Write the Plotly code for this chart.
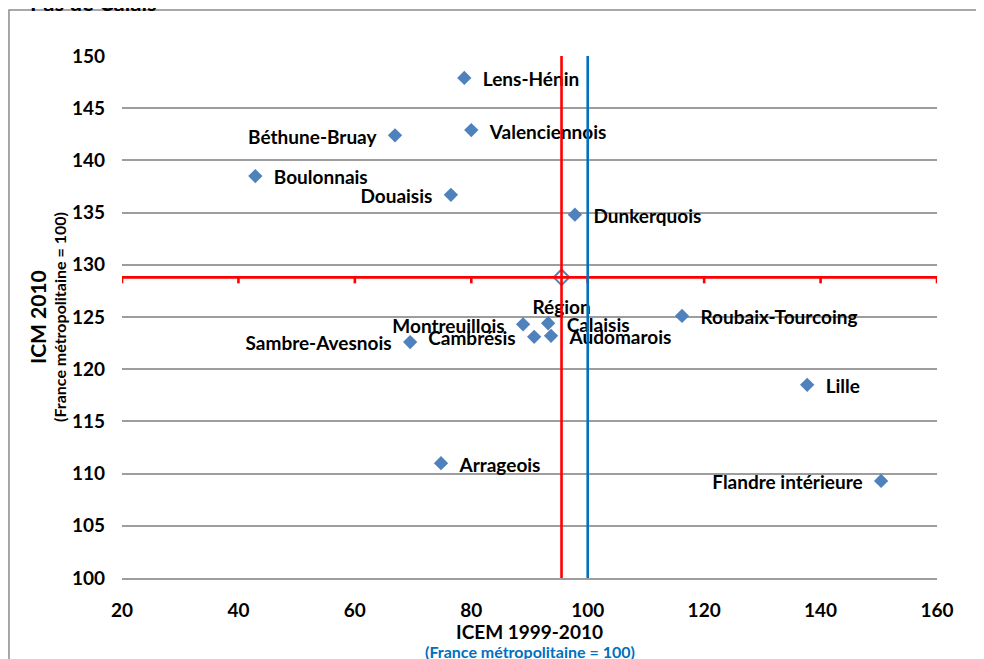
import plotly.graph_objects as go

# ---- data ----
zones = ["Lens-Hénin", "Valenciennois", "Béthune-Bruay", "Boulonnais", "Douaisis",
         "Dunkerquois", "Roubaix-Tourcoing", "Montreuillois", "Calaisis", "Cambrésis",
         "Audomarois", "Sambre-Avesnois", "Lille", "Arrageois", "Flandre intérieure"]
icem = [78.8, 80.0, 66.9, 42.9, 76.5, 97.8, 116.2, 88.9, 93.2, 90.8, 93.7, 69.5, 137.7, 74.8, 150.4]
icm = [147.9, 142.9, 142.4, 138.5, 136.7, 134.8, 125.1, 124.3, 124.4, 123.1, 123.2, 122.6, 118.5, 111.0, 109.3]
label_side = ["middle right", "middle right", "middle left", "middle right", "middle left",
              "middle right", "middle right", "middle left", "middle right", "middle left",
              "middle right", "middle left", "middle right", "middle right", "middle left"]

region_name = "Région"
region_icem = 95.5
region_icm = 128.8
france_ref = 100

x_ticks = [20, 40, 60, 80, 100, 120, 140, 160]
y_ticks = [100, 105, 110, 115, 120, 125, 130, 135, 140, 145, 150]

FONT = "Lato"
BLUE_PT = "#4F81BD"
RED = "#FF0000"
BLUE_LINE = "#0070C0"
GRID = "#9d9d9d"
LABEL_DROP = 0.35  # labels sit a few pixels lower than plotly's default middle alignment

fig = go.Figure()

# label carriers (transparent markers give the label offset), on an overlaying axis
fig.add_trace(go.Scatter(
    x=icem + [region_icem], y=icm + [region_icm], mode="markers+text", yaxis="y2",
    text=zones + [region_name], textposition=label_side + ["bottom center"],
    marker=dict(size=28, color="rgba(0,0,0,0)"),
    textfont=dict(family=FONT, size=19, color="#000000", weight="bold"),
    hoverinfo="skip", showlegend=False, cliponaxis=False))

# visible points
fig.add_trace(go.Scatter(
    x=icem, y=icm, mode="markers",
    marker=dict(symbol="diamond", size=11, color=BLUE_PT),
    showlegend=False, cliponaxis=False))

fig.add_trace(go.Scatter(
    x=[region_icem], y=[region_icm], mode="markers",
    marker=dict(symbol="diamond", size=12, color="white", line=dict(width=2, color=BLUE_PT)),
    showlegend=False, cliponaxis=False))

shapes = []
# frame
shapes.append(dict(type="rect", xref="paper", yref="paper",
                   x0=-0.1387, x1=1.07, y0=-0.2, y1=1.088,
                   line=dict(color="#8c8c8c", width=1.5), layer="below"))
# region cross-hairs
shapes.append(dict(type="line", xref="x", yref="y", x0=region_icem, x1=region_icem,
                   y0=y_ticks[0], y1=y_ticks[-1], line=dict(color=RED, width=2.6), layer="above"))
shapes.append(dict(type="line", xref="x", yref="y", x0=x_ticks[0], x1=x_ticks[-1],
                   y0=region_icm, y1=region_icm, line=dict(color=RED, width=2.6), layer="above"))
for xv in x_ticks:
    shapes.append(dict(type="line", xref="x", yref="y", ysizemode="pixel", yanchor=region_icm,
                       x0=xv, x1=xv, y0=0, y1=-6, line=dict(color=RED, width=2.6), layer="above"))
# France reference
shapes.append(dict(type="line", xref="x", yref="y", x0=france_ref, x1=france_ref,
                   y0=y_ticks[0], y1=y_ticks[-1] + 0.3, line=dict(color=BLUE_LINE, width=2.6), layer="above"))

annotations = [
    dict(text="Pas de Calais", xref="paper", yref="paper", x=0, y=1, xanchor="left", yanchor="bottom",
         xshift=-94, yshift=38, showarrow=False,
         font=dict(family=FONT, size=22, color="#000000", weight="bold")),
    dict(text="Nord -", xref="paper", yref="paper", x=0, y=1, xanchor="right", yanchor="bottom",
         xshift=-118, yshift=38, showarrow=False,
         font=dict(family=FONT, size=22, color="#000000", weight="bold")),
    dict(text="ICEM 1999-2010", xref="paper", yref="paper", x=0.5, y=0, xanchor="center", yanchor="middle",
         yshift=-53, showarrow=False, font=dict(family=FONT, size=19, color="#000000", weight="bold")),
    dict(text="(France métropolitaine = 100)", xref="paper", yref="paper", x=0.5, y=0, xanchor="center",
         yanchor="middle", yshift=-73, showarrow=False,
         font=dict(family=FONT, size=16, color=BLUE_LINE, weight="bold")),
    dict(text="ICM 2010", xref="paper", yref="paper", x=0, y=0.5, xanchor="center", yanchor="middle",
         xshift=-85, textangle=-90, showarrow=False,
         font=dict(family=FONT, size=21, color="#000000", weight="bold")),
    dict(text="(France métropolitaine = 100)", xref="paper", yref="paper", x=0, y=0.5, xanchor="center",
         yanchor="middle", xshift=-63, textangle=-90, showarrow=False,
         font=dict(family=FONT, size=16, color="#000000", weight="bold")),
]

# the page body has an 8px margin: shift the plot area up/left accordingly
fig.update_layout(
    width=984, height=659,
    margin=dict(l=114, r=55, t=48, b=89, autoexpand=False),
    paper_bgcolor="white", plot_bgcolor="white",
    shapes=shapes, annotations=annotations,
    xaxis=dict(range=[x_ticks[0], x_ticks[-1]], tickvals=x_ticks, showgrid=False, zeroline=False,
               showline=True, linecolor=GRID, linewidth=1.5, ticks="",
               ticklabelstandoff=14,
               tickfont=dict(family=FONT, size=19, color="#000000", weight="bold")),
    yaxis=dict(range=[y_ticks[0], y_ticks[-1]], tickvals=y_ticks, showgrid=True, gridcolor=GRID,
               gridwidth=1.5, zeroline=False, showline=False, ticks="",
               ticklabelstandoff=16,
               tickfont=dict(family=FONT, size=19, color="#000000", weight="bold")),
    yaxis2=dict(overlaying="y", range=[y_ticks[0] + LABEL_DROP, y_ticks[-1] + LABEL_DROP],
                visible=False),
    font=dict(family=FONT),
)

fig.write_html("out.html")
